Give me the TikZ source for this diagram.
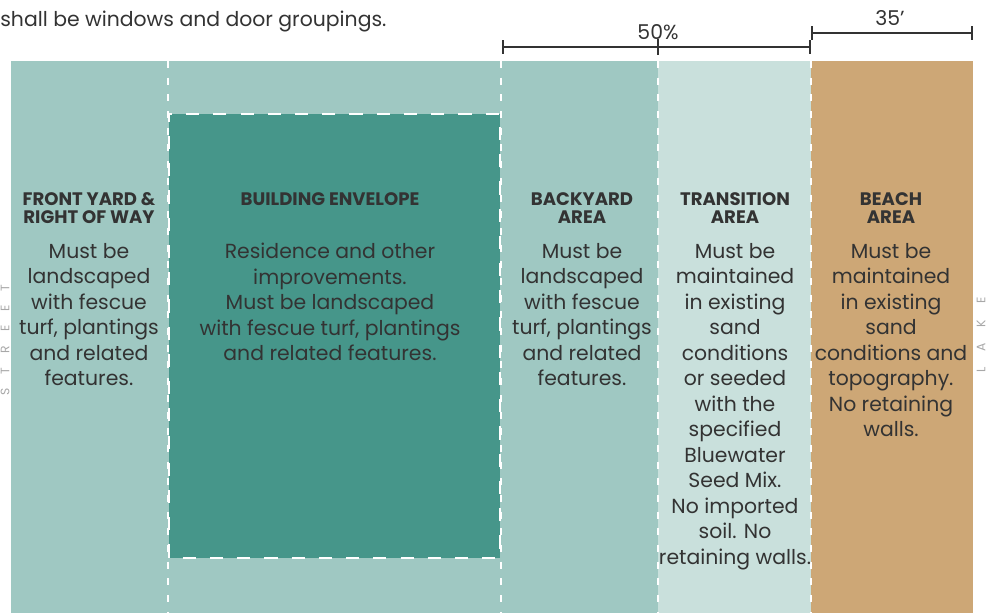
\documentclass[tikz,border=0pt]{standalone}
\usepackage{fontspec}
\setmainfont{Poppins}
\usetikzlibrary{positioning}

\definecolor{yardTeal}{HTML}{9FC8C2}
\definecolor{envTeal}{HTML}{46968A}
\definecolor{sandMint}{HTML}{C9E0DC}
\definecolor{beachTan}{HTML}{CDA776}
\definecolor{inkGray}{HTML}{333333}
\definecolor{sideGray}{HTML}{A8A8A8}

\begin{document}
\begin{tikzpicture}
[x=0.02cm,y=-0.02cm,
  dashDecorate/.style={draw=white,line width=1.2pt,dash pattern=on 4pt off 5.5pt},%
  envDecorate/.style={fill=envTeal,draw=white,line width=1.2pt,dash pattern=on 7.5pt off 8pt,dash phase=3pt},%
  titleDecorate/.style={font=\bfseries\fontsize{10.3}{10.3}\selectfont,align=center,inner sep=0pt,anchor=north,text=inkGray},%
  bodyDecorate/.style={font=\fontsize{11.6}{14.5}\selectfont,align=center,inner sep=0pt,anchor=north,text=inkGray},%
  sideDecorate/.style={font=\fontsize{7}{7}\selectfont,text=sideGray,rotate=90,inner sep=0pt},%
  dimDecorate/.style={|-|,line width=1pt,draw=inkGray}]
\useasboundingbox (0,0) rectangle (988,613);
%% zones
\fill[yardTeal] (11,61) rectangle (658,613);
\fill[sandMint] (658,61) rectangle (811,613);
\fill[beachTan] (811,61) rectangle (973,613);
%% zone borders
\foreach \x in {168, 501, 658, 811}
{
  \draw[dashDecorate] (\x,61) -- (\x,613);
}
\draw[envDecorate] (169,114) rectangle (500,558);
%% headline text
\node (intro) at (0,21) [anchor=west,inner sep=0pt,text=inkGray,font=\fontsize{11.6}{14}\selectfont] {shall be windows and door groupings.};
%% dimensions
\coordinate (halfL) at (502,47);
\coordinate (halfM) at (658,47);
\coordinate (halfR) at (811,47);
\coordinate (lakeL) at (811,33);
\coordinate (lakeR) at (973,33);
\draw[dimDecorate] (halfL) -- (halfR);
\draw[line width=1pt,draw=inkGray] ([yshift=-4.5pt]halfM) -- ([yshift=4.5pt]halfM);
\draw[dimDecorate] (lakeL) -- (lakeR);
\node (halfLabel) at (658,32) [text=inkGray,font=\fontsize{11.6}{14}\selectfont,inner sep=0pt] {50\%};
\node (lakeLabel) at (890,18) [text=inkGray,font=\fontsize{11.6}{14}\selectfont,inner sep=0pt] {35'};
%% zone titles
\foreach \nodename/\x/\txt in {
  frontT/89/{FRONT YARD \&\\RIGHT OF WAY},
  envT/330/{BUILDING ENVELOPE},
  backT/582/{BACKYARD\\AREA},
  transT/735/{TRANSITION\\AREA},
  beachT/891/{BEACH\\AREA}}
{
  \node (\nodename) at (\x,192) [titleDecorate] {\txt};
}
%% zone descriptions
\foreach \nodename/\x/\txt in {
  frontB/89/{Must be\\landscaped\\with fescue\\turf, plantings\\and related\\features.},
  envB/330/{Residence and other\\improvements.\\Must be landscaped\\with fescue turf, plantings\\and related features.},
  backB/582/{Must be\\landscaped\\with fescue\\turf, plantings\\and related\\features.},
  transB/735/{Must be\\maintained\\in existing\\sand\\conditions\\or seeded\\with the\\specified\\Bluewater\\Seed Mix.\\No imported\\soil. No\\retaining walls.},
  beachB/891/{Must be\\maintained\\in existing\\sand\\conditions and\\topography.\\No retaining\\walls.}}
{
  \node (\nodename) at (\x,243) [bodyDecorate] {\txt};
}
%% side labels
\node (street) at (5,340) [sideDecorate] {S\hspace{8pt}T\hspace{8pt}R\hspace{8pt}E\hspace{8pt}E\hspace{8pt}T};
\node (lake) at (981,335) [sideDecorate] {L\hspace{9pt}A\hspace{9pt}K\hspace{9pt}E};
\end{tikzpicture}
\end{document}
